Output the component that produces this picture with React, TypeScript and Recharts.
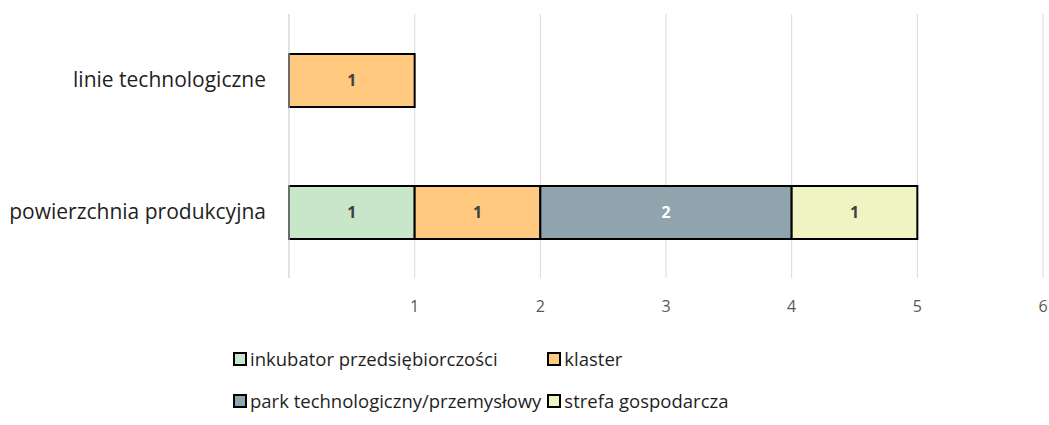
import { BarChart, Bar, XAxis, YAxis, CartesianGrid, LabelList } from 'recharts';

const categories = ['linie technologiczne', 'powierzchnia produkcyjna'];
const inkubator = [0, 1];
const klaster = [1, 1];
const park = [0, 2];
const strefa = [0, 1];
const xTicks = [0, 1, 2, 3, 4, 5, 6];

const seriesList = [
  { key: 'inkubator', name: 'inkubator przedsiębiorczości', color: '#C8E6C9', label: '#404040' },
  { key: 'klaster', name: 'klaster', color: '#FFCA80', label: '#404040' },
  { key: 'park', name: 'park technologiczny/przemysłowy', color: '#90A4AE', label: '#FFFFFF' },
  { key: 'strefa', name: 'strefa gospodarcza', color: '#F0F4C3', label: '#404040' },
];

const data = categories.map((name, i) => ({
  name,
  inkubator: inkubator[i] || null,
  klaster: klaster[i] || null,
  park: park[i] || null,
  strefa: strefa[i] || null,
}));

const FONT = '"Open Sans", "Noto Sans", sans-serif';

export default function App() {
  return (
    <div style={{ position: 'absolute', left: 0, top: 0, width: 1049, height: 425, background: '#fff', fontFamily: FONT }}>
      <BarChart
        width={1049}
        height={425}
        data={data}
        layout="vertical"
        barSize={53}
        margin={{ top: 14, right: 6, left: 0, bottom: 87 }}
      >
        <CartesianGrid horizontal={false} stroke="#D9D9D9" strokeWidth={1} />
        <XAxis
          type="number"
          domain={[0, 6]}
          ticks={xTicks}
          height={60}
          axisLine={false}
          tickLine={false}
          tickSize={0}
          tickMargin={23}
          tickFormatter={(v) => (v === 0 ? '' : String(v))}
          tick={{ fill: '#595959', fontSize: 16, fontFamily: FONT }}
        />
        <YAxis
          type="category"
          dataKey="name"
          width={289}
          axisLine={{ stroke: '#D9D9D9' }}
          tickLine={false}
          tickSize={0}
          tickMargin={23}
          tick={{ fill: '#1f1f1f', fontSize: 21, fontFamily: FONT }}
        />
        {seriesList.map((s) => (
          <Bar
            key={s.key}
            dataKey={s.key}
            name={s.name}
            stackId="a"
            fill={s.color}
            stroke="#000"
            strokeWidth={2}
            isAnimationActive={false}
          >
            <LabelList
              dataKey={s.key}
              position="center"
              fill={s.label}
              fontSize={16}
              fontWeight="bold"
              fontFamily={FONT}
            />
          </Bar>
        ))}
      </BarChart>
      {/* legenda w dwóch kolumnach jak w Excelu */}
      <div
        style={{
          position: 'absolute',
          left: 233,
          top: 346,
          display: 'grid',
          gridTemplateColumns: 'auto auto',
          columnGap: 6,
          rowGap: 17,
          fontSize: 18.5,
          lineHeight: '25px',
          color: '#1f1f1f',
        }}
      >
        {seriesList.map((s) => (
          <div key={s.key} style={{ display: 'flex', alignItems: 'center', whiteSpace: 'nowrap' }}>
            <span
              style={{
                display: 'inline-block',
                width: 10,
                height: 10,
                background: s.color,
                border: '2px solid #000',
                marginRight: 3,
              }}
            />
            {s.name}
          </div>
        ))}
      </div>
    </div>
  );
}
